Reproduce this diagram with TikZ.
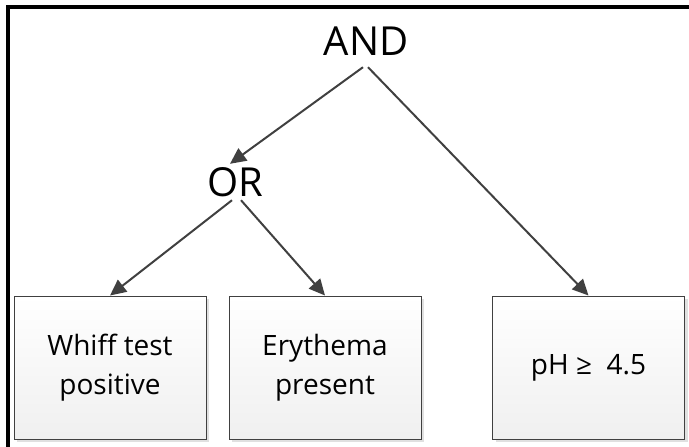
\documentclass[tikz,border=0pt]{standalone}
\usepackage{fontspec}
\setmainfont{Open Sans}
\usetikzlibrary{shadows,arrows.meta}
\definecolor{linegray}{HTML}{404040}
\tikzset{
  opnode/.style={font=\fontsize{40}{48}\selectfont, inner xsep=0pt, text height=28pt, text depth=0pt},
  leafbox/.style={draw=linegray, line width=1pt, top color=white, bottom color=gray!12,
    minimum width=192pt, minimum height=143pt, align=center,
    font=\fontsize{28}{39}\selectfont,
    general shadow={fill=black!12, shadow xshift=3pt, shadow yshift=-3pt}},
  link/.style={draw=linegray, line width=2pt, -{Triangle[length=16pt,width=15pt]}}
}
\begin{document}
\begin{tikzpicture}[x=1pt,y=-1pt]
  \useasboundingbox (0,0) rectangle (689,447);
  \draw[line width=4pt] (8,7) rectangle (720,480);
  % operators
  \node[opnode, inner ysep=12pt] (and) at (366,41) {AND};
  \node[opnode, inner ysep=4pt] (or) at (235,182) {OR};
  % leaves
  \node[leafbox] (whiff) at (110,367.5) {Whiff test\\positive};
  \node[leafbox] (ery) at (325,367.5) {Erythema\\present};
  \node[leafbox] (ph) at (588.5,367.5) {pH ≥~ 4.5};
  % connectors
  \draw[link] ([xshift=-3pt]and.south) -- ([xshift=-5pt]or.north);
  \draw[link] ([xshift=2pt]and.south) -- (ph.north);
  \draw[link] ([xshift=-3pt]or.south) -- (whiff.north);
  \draw[link] ([xshift=6pt]or.south) -- (ery.north);
\end{tikzpicture}
\end{document}
